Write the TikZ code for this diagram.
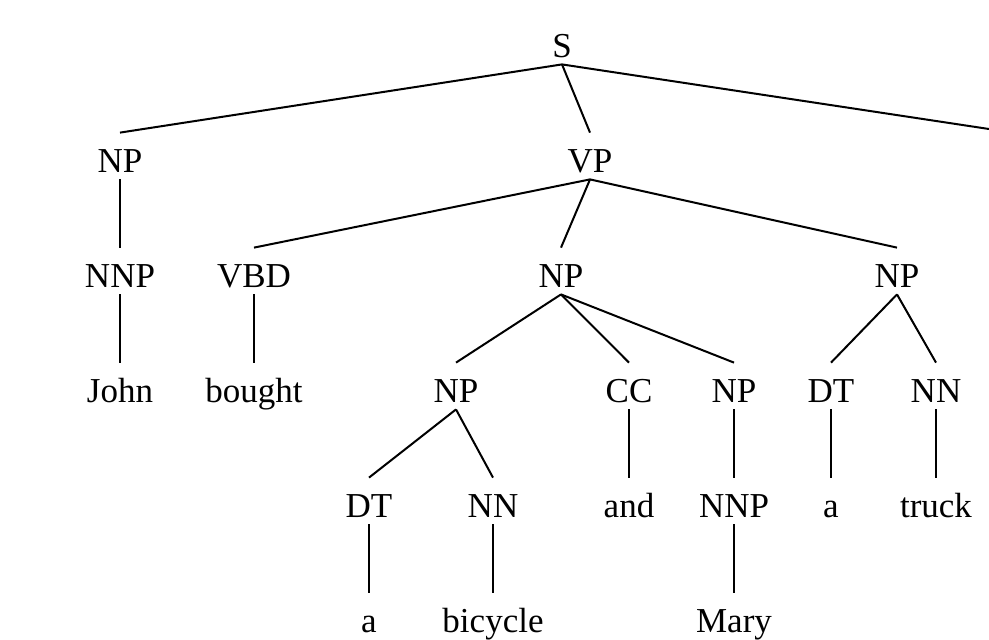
\documentclass[tikz,border=0pt]{standalone}
\usepackage{fontspec}
\setmainfont{Liberation Serif}
\begin{document}
\begin{tikzpicture}[x=0.5pt,y=-0.5pt,
  lbl/.style={inner sep=0pt, anchor=base, text height=19.5pt, text depth=3.5pt,
              font=\fontsize{17.5}{20}\selectfont},
  edge/.style={draw=black, line width=1pt}]
\useasboundingbox (0,0) rectangle (989,639);
% row 0
\node[lbl] (s) at (562,57) {S};
% row 1
\node[lbl] (np1) at (120,172) {NP};
\node[lbl] (vp) at (590,172) {VP};
\coordinate (sright) at (989,129);
% row 2
\node[lbl] (nnp1) at (120,287) {NNP};
\node[lbl] (vbd) at (254,287) {VBD};
\node[lbl] (np2) at (561,287) {NP};
\node[lbl] (np3) at (897,287) {NP};
% row 3
\node[lbl] (john) at (120,402) {John};
\node[lbl] (bought) at (254,402) {bought};
\node[lbl] (np4) at (456,402) {NP};
\node[lbl] (cc) at (629,402) {CC};
\node[lbl] (np5) at (734,402) {NP};
\node[lbl] (dt1) at (831,402) {DT};
\node[lbl] (nn1) at (936,402) {NN};
% row 4
\node[lbl] (dt2) at (369,517) {DT};
\node[lbl] (nn2) at (493,517) {NN};
\node[lbl] (and) at (629,517) {and};
\node[lbl] (nnp2) at (734,517) {NNP};
\node[lbl] (a1) at (831,517) {a};
\node[lbl] (truck) at (936,517) {truck};
% row 5
\node[lbl] (a2) at (369,632) {a};
\node[lbl] (bicycle) at (493,632) {bicycle};
\node[lbl] (mary) at (734,632) {Mary};
% connectors
\draw[edge] (s.south) -- (np1.north);
\draw[edge] (s.south) -- (vp.north);
\draw[edge] (s.south) -- (sright);
\draw[edge] (np1.south) -- (nnp1.north);
\draw[edge] (vp.south) -- (vbd.north);
\draw[edge] (vp.south) -- (np2.north);
\draw[edge] (vp.south) -- (np3.north);
\draw[edge] (nnp1.south) -- (john.north);
\draw[edge] (vbd.south) -- (bought.north);
\draw[edge] (np2.south) -- (np4.north);
\draw[edge] (np2.south) -- (cc.north);
\draw[edge] (np2.south) -- (np5.north);
\draw[edge] (np3.south) -- (dt1.north);
\draw[edge] (np3.south) -- (nn1.north);
\draw[edge] (np4.south) -- (dt2.north);
\draw[edge] (np4.south) -- (nn2.north);
\draw[edge] (cc.south) -- (and.north);
\draw[edge] (np5.south) -- (nnp2.north);
\draw[edge] (dt1.south) -- (a1.north);
\draw[edge] (nn1.south) -- (truck.north);
\draw[edge] (dt2.south) -- (a2.north);
\draw[edge] (nn2.south) -- (bicycle.north);
\draw[edge] (nnp2.south) -- (mary.north);
\end{tikzpicture}
\end{document}
